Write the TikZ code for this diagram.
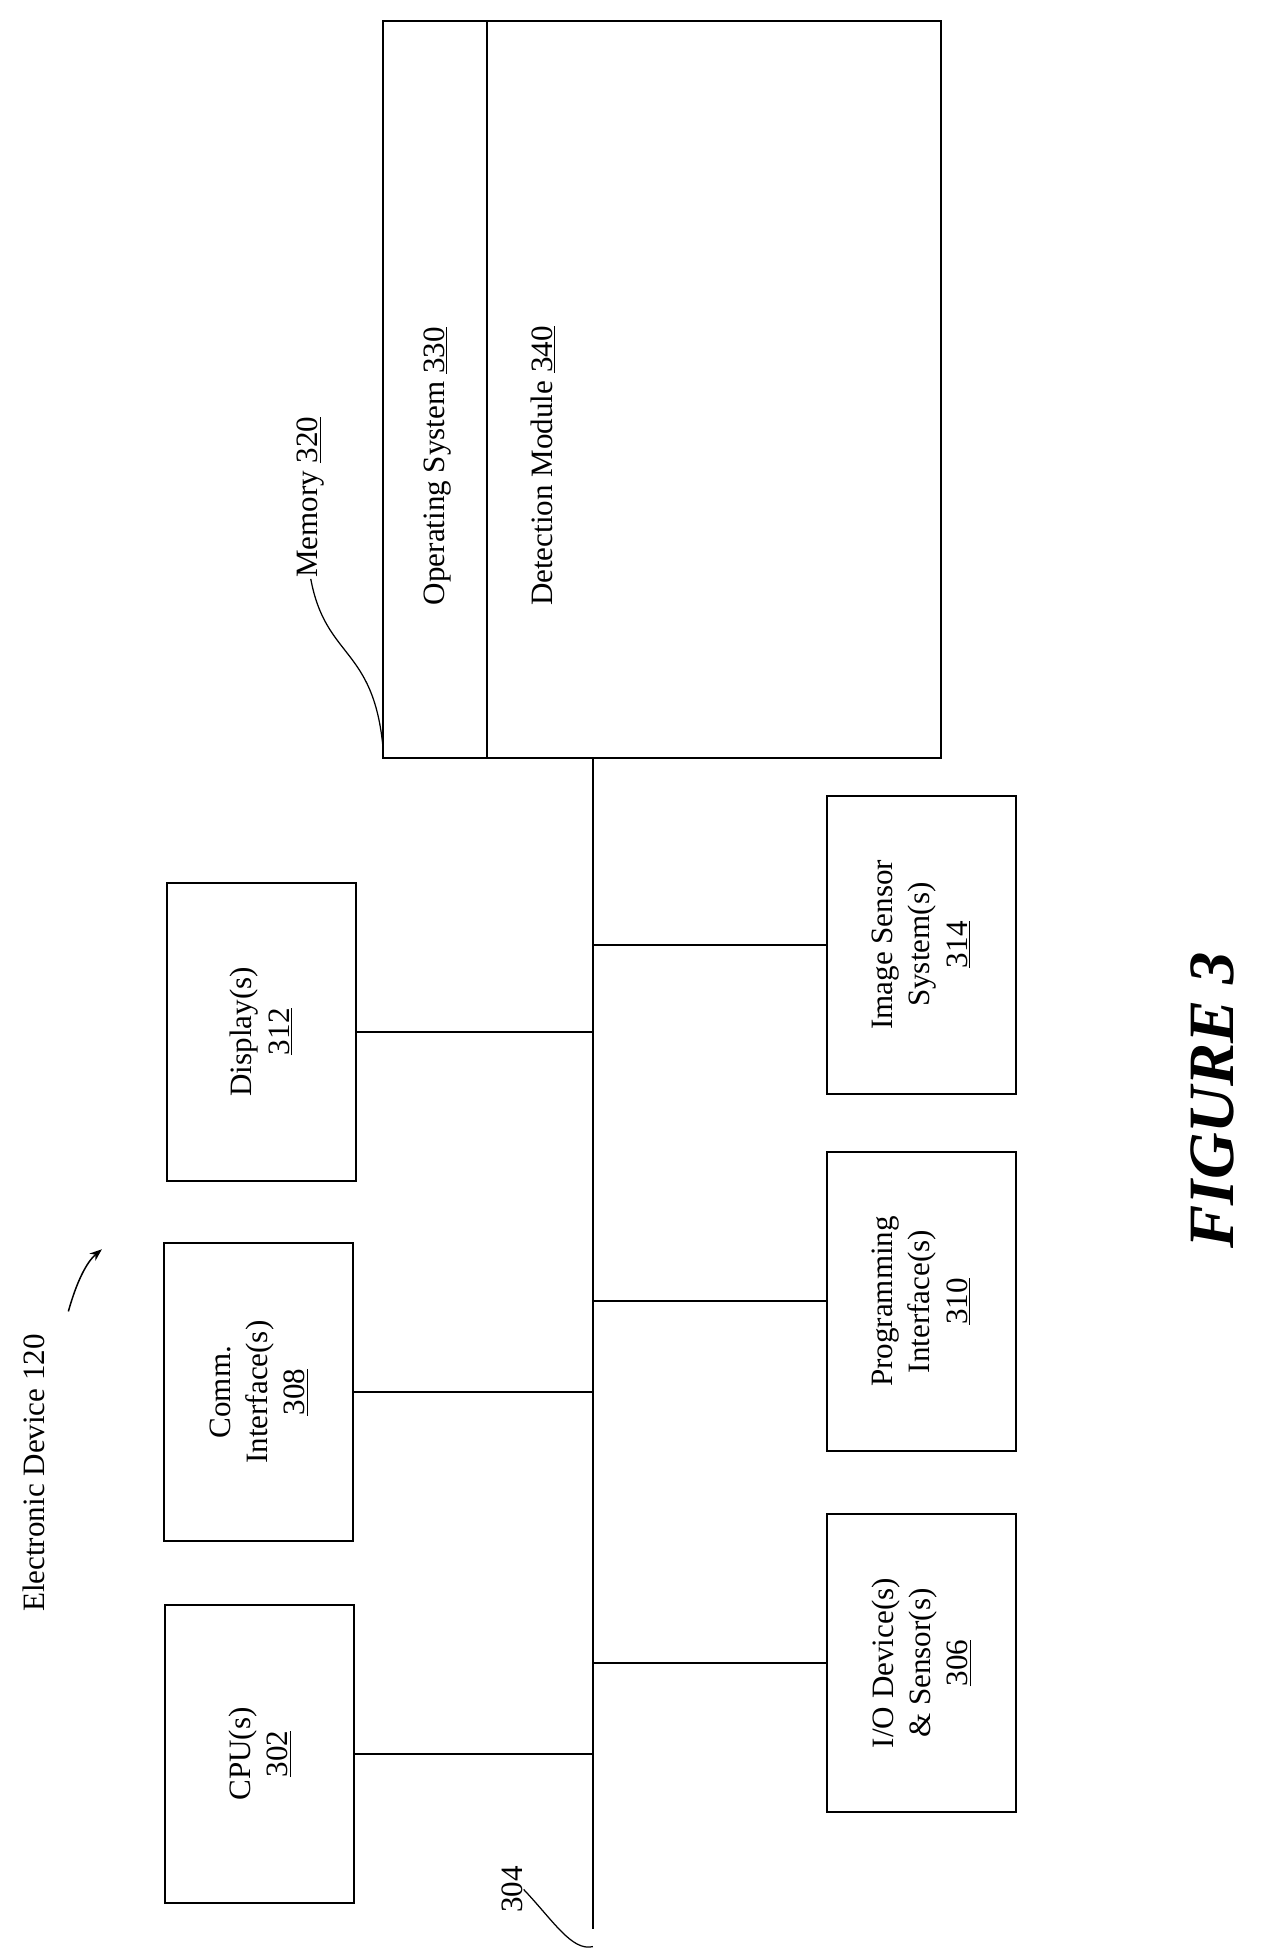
\documentclass[tikz,border=0pt]{standalone}
\usepackage{fontspec}
\setmainfont{Liberation Serif}
\usetikzlibrary{arrows.meta}
\begin{document}
\begin{tikzpicture}[x=1pt,y=-1pt,line width=1.6pt,
  box/.style={draw,rotate=90,minimum width=240pt,minimum height=152pt,align=center,font=\fontsize{25}{30}\selectfont,inner sep=0pt},
  lbl/.style={rotate=90,font=\fontsize{25}{30}\selectfont,inner sep=0pt}]
\useasboundingbox (0,0) rectangle (1020,1576);
% memory
\node[draw,rotate=90,minimum width=593pt,minimum height=449pt,inner sep=0pt] (mem) at (532.5,313.5) {};
\coordinate (mt) at (392,17); \coordinate (mb) at (392,610);
\draw (mt) -- (mb);
\node[lbl] (os) at (352,375) {Operating System \underline{330}};
\node[lbl] (dm) at (437,375) {Detection Module \underline{340}};
\node[lbl] (memlbl) at (250,400) {Memory \underline{320}};
\coordinate (mc) at (308,600);
\draw[line width=1pt] (mc) .. controls (300,520) and (262,530) .. (memlbl.west);
% bus
\coordinate (bt) at (477,610); \coordinate (bb) at (477,1552);
\draw (bt) -- (bb);
% boxes
\node[box] (cpu) at (209,1411) {CPU(s)\\\underline{302}};
\node[box] (comm) at (208,1120) {Comm.\\Interface(s)\\\underline{308}};
\node[box] (disp) at (210,830) {Display(s)\\\underline{312}};
\node[box] (io) at (741,1338) {I/O Device(s)\\\& Sensor(s)\\\underline{306}};
\node[box] (prog) at (741,1047) {Programming\\Interface(s)\\\underline{310}};
\node[box] (img) at (741,760) {Image Sensor\\System(s)\\\underline{314}};
\foreach \n in {cpu,comm,disp}{\draw (\n.south) -- (\n.south -| bt);}
\foreach \n in {io,prog,img}{\draw (\n.north) -- (\n.north -| bt);}
% labels
\node[lbl] (ed) at (27,1185) {Electronic Device 120};
\coordinate (ea) at (55,1055); \coordinate (eb) at (82,1005);
\draw[line width=1.2pt,-{Stealth[length=10pt]}] (ea) .. controls (62,1030) and (70,1015) .. (eb);
\node[lbl] (b304) at (412,1520) {304};
\coordinate (bc) at (477,1566);
\draw[line width=1pt] (b304.south) .. controls (445,1545) and (460,1570) .. (bc);
\node[rotate=90,font=\fontsize{52}{58}\selectfont\bfseries\itshape] (fig) at (975,885) {FIGURE 3};
\end{tikzpicture}
\end{document}
